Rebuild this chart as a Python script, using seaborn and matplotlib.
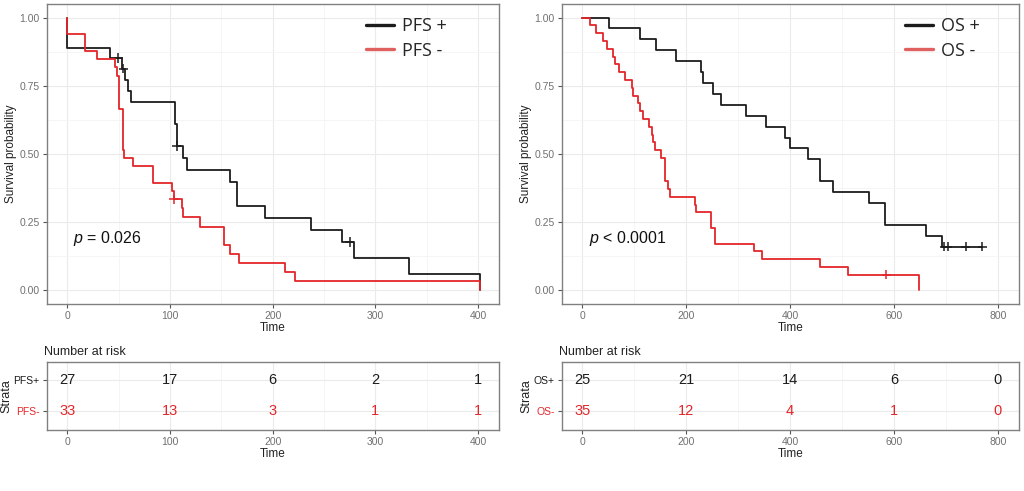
import pandas as pd
import seaborn as sns
import matplotlib.pyplot as plt
from matplotlib.lines import Line2D
from matplotlib.ticker import MultipleLocator

# ---- Kaplan-Meier steps (time, survival) ----
pfs_pos_t = [0, 0, 41.6, 53, 56.3, 59.6, 61.8, 104.9, 106.5, 113, 116.8, 158.4,
             165, 192.5, 237, 267, 279, 333, 402]
pfs_pos_s = [1.0, 0.889, 0.852, 0.813, 0.772, 0.732, 0.691, 0.610, 0.529, 0.485,
             0.441, 0.397, 0.309, 0.265, 0.221, 0.177, 0.118, 0.059, 0.0]
pfs_neg_t = [0, 0, 17.2, 29.2, 46.4, 48.7, 50.6, 53.9, 55.5, 63.6, 83.5, 101.6,
             103.9, 111.4, 113, 129.2, 152.6, 158.4, 167.5, 212, 221.7, 402]
pfs_neg_s = [1.0, 0.939, 0.879, 0.848, 0.818, 0.787, 0.666, 0.515, 0.485, 0.454,
             0.394, 0.364, 0.333, 0.300, 0.267, 0.233, 0.167, 0.133, 0.100, 0.067,
             0.033, 0.0]
pfs_pos_cens_t = [49.7, 54.5, 106.5, 275]
pfs_pos_cens_s = [0.852, 0.813, 0.529, 0.177]
pfs_neg_cens_t = [104]
pfs_neg_cens_s = [0.333]

os_pos_t = [0, 51, 110.5, 142.5, 181, 229, 232, 251, 267, 315, 353, 390.5, 400,
            435, 457, 482.5, 551.5, 582, 662, 692, 770]
os_pos_s = [1.0, 0.96, 0.92, 0.88, 0.84, 0.80, 0.76, 0.72, 0.68, 0.64, 0.60, 0.56,
            0.52, 0.48, 0.40, 0.36, 0.32, 0.24, 0.20, 0.16, 0.16]
os_neg_t = [0, 14.8, 26.3, 40.3, 46.8, 59.4, 62.7, 70.9, 81.8, 94.7, 97.8, 107.3,
            110.6, 116.9, 129, 133, 136, 139.4, 152.2, 158.5, 164.9, 168.1, 216,
            219, 248, 256, 331, 346, 457, 511, 649]
os_neg_s = [1.0, 0.971, 0.943, 0.914, 0.886, 0.857, 0.829, 0.800, 0.771, 0.743,
            0.714, 0.686, 0.657, 0.629, 0.600, 0.571, 0.543, 0.514, 0.486, 0.400,
            0.371, 0.343, 0.314, 0.286, 0.229, 0.171, 0.143, 0.114, 0.086, 0.057,
            0.0]
os_pos_cens_t = [697, 703, 738, 770]
os_pos_cens_s = [0.16, 0.16, 0.16, 0.16]
os_neg_cens_t = [585]
os_neg_cens_s = [0.057]

# ---- number at risk ----
pfs_risk_t = [0, 100, 200, 300, 400]
pfs_risk_pos = [27, 17, 6, 2, 1]
pfs_risk_neg = [33, 13, 3, 1, 1]
os_risk_t = [0, 200, 400, 600, 800]
os_risk_pos = [25, 21, 14, 6, 0]
os_risk_neg = [35, 12, 4, 1, 0]

BLACK = "#1c1c1c"
RED = "#e3262a"
GRID = "#ebebeb"
TICK = "#707070"

sns.set_theme(style="white")
plt.rcParams["font.family"] = ["Liberation Sans", "DejaVu Sans"]
plt.rcParams["mathtext.fontset"] = "custom"
plt.rcParams["mathtext.it"] = "Liberation Sans:italic"
plt.rcParams["mathtext.rm"] = "Liberation Sans"


def style_axes(ax, xmax, xstep):
    ax.set_xlim(-0.05 * xmax, 1.05 * xmax)
    ax.xaxis.set_major_locator(MultipleLocator(xstep))
    ax.xaxis.set_minor_locator(MultipleLocator(xstep / 2))
    ax.grid(which="major", color=GRID, lw=0.8)
    ax.grid(which="minor", color="#f4f4f4", lw=0.6)
    ax.set_axisbelow(True)
    for sp in ax.spines.values():
        sp.set_color("#808080")
        sp.set_linewidth(1.0)
    ax.tick_params(which="major", length=3, width=0.8, color="#555555",
                   labelsize=7.5, labelcolor=TICK, pad=2, bottom=True, left=True)
    ax.tick_params(which="minor", length=0)


def km_panel(ax, pos_t, pos_s, neg_t, neg_s, cp_t, cp_s, cn_t, cn_s,
             labels, legend_labels, xmax, xstep, ptxt, legend_x):
    df = pd.concat([
        pd.DataFrame({"time": pos_t, "surv": pos_s, "group": labels[0]}),
        pd.DataFrame({"time": neg_t, "surv": neg_s, "group": labels[1]}),
    ])
    sns.lineplot(data=df, x="time", y="surv", hue="group",
                 palette={labels[0]: BLACK, labels[1]: RED},
                 estimator=None, sort=False, drawstyle="steps-post",
                 lw=1.3, legend=False, ax=ax)
    cens = pd.concat([
        pd.DataFrame({"time": cp_t, "surv": cp_s, "group": labels[0]}),
        pd.DataFrame({"time": cn_t, "surv": cn_s, "group": labels[1]}),
    ])
    sns.scatterplot(data=cens, x="time", y="surv", hue="group",
                    palette={labels[0]: BLACK, labels[1]: RED},
                    marker="+", s=45, linewidth=1.1, legend=False, ax=ax)
    style_axes(ax, xmax, xstep)
    ax.set_ylim(-0.05, 1.05)
    ax.yaxis.set_minor_locator(MultipleLocator(0.125))
    ax.set_yticks([0, 0.25, 0.5, 0.75, 1.0])
    ax.set_yticklabels(["0.00", "0.25", "0.50", "0.75", "1.00"])
    ax.set_xlabel("Time", fontsize=8.5, color="#222222", labelpad=1)
    ax.set_ylabel("Survival probability", fontsize=8.5, color="#222222",
                  labelpad=2)
    ax.text(0.015 * xmax, 0.19, ptxt, fontsize=11.5, va="center", ha="left",
            color="#111111")
    handles = [Line2D([], [], color=BLACK, lw=2.4),
               Line2D([], [], color="#e06060", lw=2.4)]
    ax.legend(handles, legend_labels,
              loc="upper left", bbox_to_anchor=(legend_x, 0.955),
              frameon=False, handlelength=1.55,
              handletextpad=0.45, labelspacing=0.35, borderpad=0,
              borderaxespad=0, prop={"family": "Open Sans", "size": 13})


def risk_panel(ax, times, pos, neg, ticklabels, xmax, xstep):
    for t, a, b in zip(times, pos, neg):
        ax.text(t, 1, str(a), ha="center", va="center", fontsize=10.5,
                color=BLACK)
        ax.text(t, 2, str(b), ha="center", va="center", fontsize=10.5,
                color=RED)
    style_axes(ax, xmax, xstep)
    ax.set_ylim(2.6, 0.4)
    ax.set_yticks([1, 2])
    ax.set_yticklabels(ticklabels)
    ax.get_yticklabels()[0].set_color(BLACK)
    ax.get_yticklabels()[1].set_color(RED)
    ax.grid(axis="y", which="minor", visible=False)
    ax.set_xlabel("Time", fontsize=8.5, color="#222222", labelpad=1)
    ax.set_ylabel("Strata", fontsize=9, color="#222222", labelpad=1)
    ax.set_title("Number at risk", loc="left", fontsize=9, color="#222222",
                 pad=5, x=-0.005)


fig = plt.figure(figsize=(10.24, 4.91), dpi=100)
axL = fig.add_axes([0.0456, 0.381, 0.4414, 0.611])
axR = fig.add_axes([0.5485, 0.381, 0.4463, 0.611])
rkL = fig.add_axes([0.0456, 0.1242, 0.4414, 0.139])
rkR = fig.add_axes([0.5485, 0.1242, 0.4463, 0.139])

km_panel(axL, pfs_pos_t, pfs_pos_s, pfs_neg_t, pfs_neg_s,
         pfs_pos_cens_t, pfs_pos_cens_s, pfs_neg_cens_t, pfs_neg_cens_s,
         ["PFS+", "PFS-"], ["PFS +", "PFS -"], 400, 100,
         "$p$ = 0.026", 0.706)
km_panel(axR, os_pos_t, os_pos_s, os_neg_t, os_neg_s,
         os_pos_cens_t, os_pos_cens_s, os_neg_cens_t, os_neg_cens_s,
         ["OS+", "OS-"], ["OS +", "OS -"], 800, 200,
         "$p$ < 0.0001", 0.751)

risk_panel(rkL, pfs_risk_t, pfs_risk_pos, pfs_risk_neg, ["PFS+", "PFS-"], 400, 100)
risk_panel(rkR, os_risk_t, os_risk_pos, os_risk_neg, ["OS+", "OS-"], 800, 200)

fig.savefig("out.png", dpi=100, facecolor="white")
